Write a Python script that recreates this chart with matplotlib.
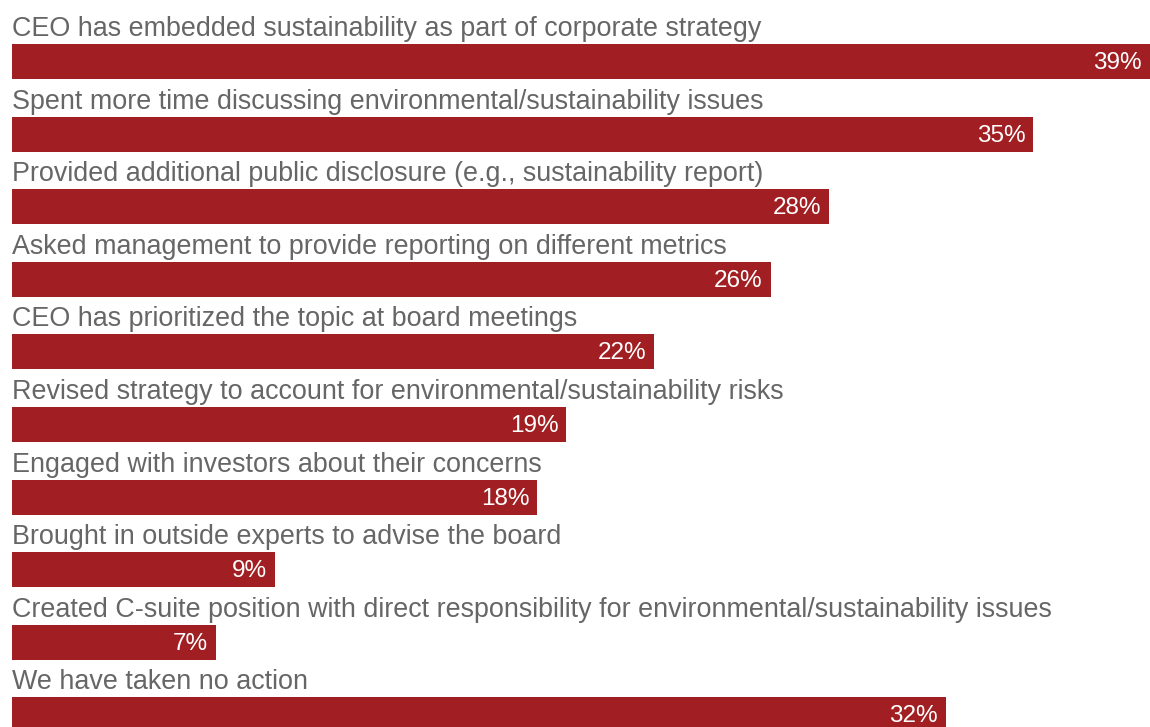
# horizontal bars, label above each bar

import numpy as np
import matplotlib.pyplot as plt

plt.rcParams['font.family'] = ['Liberation Sans', 'DejaVu Sans']

categories = [
    'CEO has embedded sustainability as part of corporate strategy',
    'Spent more time discussing environmental/sustainability issues',
    'Provided additional public disclosure (e.g., sustainability report)',
    'Asked management to provide reporting on different metrics',
    'CEO has prioritized the topic at board meetings',
    'Revised strategy to account for environmental/sustainability risks',
    'Engaged with investors about their concerns',
    'Brought in outside experts to advise the board',
    'Created C-suite position with direct responsibility for environmental/sustainability issues',
    'We have taken no action',
]
values = [39, 35, 28, 26, 22, 19, 18, 9, 7, 32]

bar_color = '#A11F22'
text_color = '#666666'

fig = plt.figure(figsize=(11.5, 7.27), dpi=100)
ax = fig.add_axes([0, 0, 1, 1])

ind = np.arange(len(values))
height = 0.482

ax.barh(ind, values, height, color=bar_color, left=0)

for i, (cat, v) in enumerate(zip(categories, values)):
    ax.text(0, i - height / 2 - 0.11, cat, ha='left', va='baseline',
            fontsize=19.4, color=text_color)
    ax.text(v - 0.27, i + 0.02, '%d%%' % v, ha='right', va='center',
            fontsize=17.5, color='white')

ax.set_xlim(-0.411, 39.0)
ax.set_ylim(9.167, -0.847)
ax.axis('off')

fig.savefig('out.png', dpi=100)
